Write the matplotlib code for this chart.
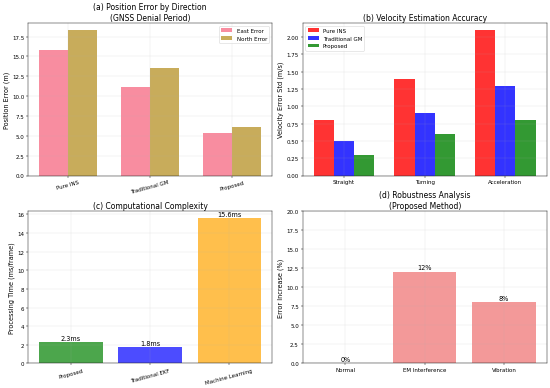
import numpy as np
import matplotlib
matplotlib.use("Agg")
import matplotlib.pyplot as plt
import seaborn as sns

# (a) position error
methods_a = ['Pure INS', 'Traditional GM', 'Proposed']
east_err = [15.8, 11.2, 5.4]
north_err = [18.3, 13.6, 6.1]

# (b) velocity
scenarios = ['Straight', 'Turning', 'Acceleration']
vel_ins = [0.8, 1.4, 2.1]
vel_gm = [0.5, 0.9, 1.3]
vel_prop = [0.3, 0.6, 0.8]

# (c) computation time
methods_c = ['Proposed', 'Traditional EKF', 'Machine Learning']
proc_time = [2.3, 1.8, 15.6]

# (d) robustness
conditions = ['Normal', 'EM Interference', 'Vibration']
err_increase = [0, 12, 8]

pal = sns.color_palette("husl")

fig, axes = plt.subplots(2, 2, figsize=(14, 9.9), dpi=550/14)

ax = axes[0, 0]
x = np.arange(len(methods_a))
w = 0.35
ax.bar(x - w/2, east_err, w, label='East Error', color=pal[0], alpha=0.8)
ax.bar(x + w/2, north_err, w, label='North Error', color=pal[1], alpha=0.8)
ax.set_xticks(x)
ax.set_xticklabels(methods_a, rotation=15)
ax.set_ylabel('Position Error (m)', fontsize=12)
ax.set_title('(a) Position Error by Direction\n(GNSS Denial Period)', fontsize=14)
ax.legend()
ax.grid(True, alpha=0.3)

ax = axes[0, 1]
x = np.arange(len(scenarios))
w = 0.25
ax.bar(x - w, vel_ins, w, label='Pure INS', color='red', alpha=0.8)
ax.bar(x, vel_gm, w, label='Traditional GM', color='blue', alpha=0.8)
ax.bar(x + w, vel_prop, w, label='Proposed', color='green', alpha=0.8)
ax.set_xticks(x)
ax.set_xticklabels(scenarios)
ax.set_ylabel('Velocity Error Std (m/s)', fontsize=12)
ax.set_title('(b) Velocity Estimation Accuracy', fontsize=14)
ax.legend()
ax.grid(True, alpha=0.3)

ax = axes[1, 0]
bars = ax.bar(methods_c, proc_time, color=['green', 'blue', 'orange'], alpha=0.7)
for b, v in zip(bars, proc_time):
    ax.text(b.get_x() + b.get_width()/2, b.get_height() + 0.1, f'{v}ms',
            ha='center', va='bottom', fontsize=12)
ax.set_ylabel('Processing Time (ms/frame)', fontsize=12)
ax.set_title('(c) Computational Complexity', fontsize=14)
ax.tick_params(axis='x', rotation=15)
ax.grid(True, alpha=0.3)

ax = axes[1, 1]
bars = ax.bar(conditions, err_increase, color='lightcoral', alpha=0.8)
for b, v in zip(bars, err_increase):
    ax.text(b.get_x() + b.get_width()/2, b.get_height() + 0.2, f'{v}%',
            ha='center', va='bottom', fontsize=12)
ax.set_ylabel('Error Increase (%)', fontsize=12)
ax.set_title('(d) Robustness Analysis\n(Proposed Method)', fontsize=14)
ax.set_ylim(0, 20)
ax.grid(True, alpha=0.3)

plt.tight_layout(pad=0.6, h_pad=1.08, w_pad=1.08)
plt.savefig('out.png')
